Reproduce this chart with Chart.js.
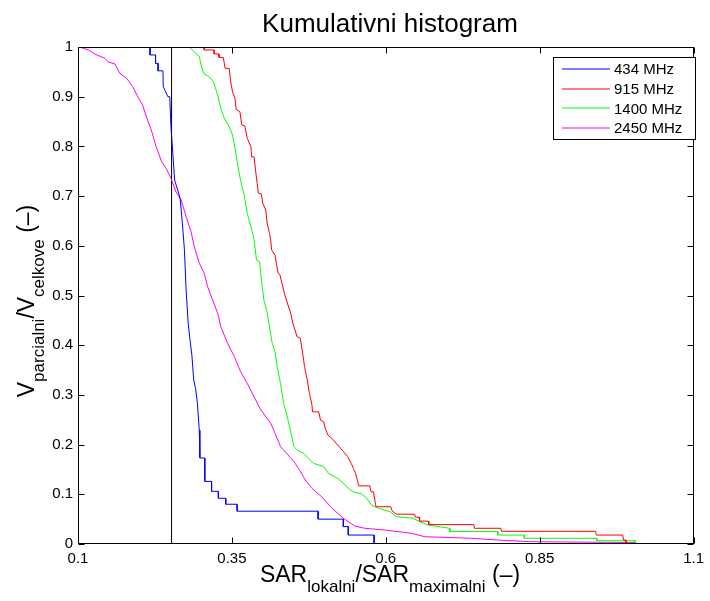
<!DOCTYPE html>
<html lang="en">
<head>
<meta charset="UTF-8">
<title>Kumulativni histogram</title>
<script src="https://cdn.jsdelivr.net/npm/chart.js"></script>
<style>
  body { margin: 0; background: #fff; }
</style>
</head>
<body>
<canvas id="histChart" width="710" height="601"></canvas>
<script>
// tick values
const xTicks = [0.1, 0.35, 0.6, 0.85, 1.1];
const yTicks = [0, 0.1, 0.2, 0.3, 0.4, 0.5, 0.6, 0.7, 0.8, 0.9, 1];

// series names
const seriesLabels = ['434 MHz', '915 MHz', '1400 MHz', '2450 MHz'];

// vertical marker position
const markerX = 0.252;

// [SAR_lokalni/SAR_maximalni, V_parcialni/V_celkove] pairs
const curve434 = [
  [0.217,1],[0.217,0.984],[0.226,0.984],[0.226,0.967],[0.230,0.967],[0.230,0.952],
  [0.238,0.952],[0.2385,0.920],[0.246,0.900],[0.249,0.900],[0.251,0.84],[0.254,0.786],
  [0.257,0.732],[0.262,0.712],[0.266,0.695],[0.270,0.638],[0.273,0.590],[0.2756,0.511],
  [0.279,0.444],[0.282,0.41],[0.285,0.380],[0.288,0.330],[0.291,0.313],[0.294,0.283],
  [0.297,0.229],[0.298,0.173],[0.306,0.173],[0.306,0.126],[0.317,0.126],[0.317,0.106],
  [0.328,0.106],[0.328,0.092],[0.340,0.092],[0.340,0.080],[0.3585,0.080],[0.3585,0.066],
  [0.490,0.066],[0.490,0.050],[0.531,0.050],[0.531,0.035],[0.539,0.035],[0.539,0.018],
  [0.581,0.018],[0.581,0]
];
const curve915 = [
  [0.305,1],[0.305,0.994],[0.321,0.994],[0.321,0.986],[0.329,0.986],[0.329,0.979],
  [0.336,0.979],[0.339,0.957],[0.3456,0.957],[0.348,0.930],[0.351,0.910],[0.355,0.897],
  [0.357,0.874],[0.363,0.870],[0.366,0.843],[0.371,0.841],[0.375,0.816],[0.381,0.799],
  [0.382,0.779],[0.386,0.779],[0.389,0.746],[0.391,0.726],[0.393,0.706],[0.398,0.704],
  [0.400,0.686],[0.405,0.672],[0.407,0.648],[0.411,0.625],[0.413,0.612],[0.4145,0.592],
  [0.420,0.581],[0.425,0.545],[0.428,0.542],[0.432,0.521],[0.436,0.501],[0.441,0.481],
  [0.445,0.467],[0.449,0.444],[0.456,0.417],[0.461,0.414],[0.465,0.384],[0.468,0.357],
  [0.472,0.333],[0.476,0.303],[0.480,0.280],[0.481,0.266],[0.491,0.266],[0.494,0.249],
  [0.499,0.246],[0.502,0.231],[0.506,0.219],[0.512,0.213],[0.522,0.199],[0.529,0.189],
  [0.538,0.176],[0.544,0.162],[0.5475,0.152],[0.551,0.142],[0.556,0.117],[0.574,0.117],
  [0.576,0.105],[0.580,0.105],[0.584,0.075],[0.608,0.075],[0.610,0.067],[0.617,0.060],
  [0.647,0.060],[0.648,0.054],[0.654,0.054],[0.655,0.046],[0.669,0.046],[0.670,0.039],
  [0.743,0.039],[0.744,0.0316],[0.787,0.0316],[0.788,0.0255],[0.941,0.0255],[0.942,0.018],
  [0.985,0.018],[0.986,0.008],[0.99,0.008],[0.99,0]
];
const curve1400 = [
  [0.281,1],[0.289,0.990],[0.297,0.981],[0.300,0.964],[0.304,0.947],[0.313,0.940],
  [0.320,0.930],[0.327,0.903],[0.332,0.877],[0.3375,0.857],[0.3456,0.840],[0.351,0.823],
  [0.355,0.796],[0.359,0.766],[0.364,0.732],[0.370,0.702],[0.375,0.665],[0.381,0.638],
  [0.386,0.613],[0.390,0.571],[0.395,0.568],[0.398,0.531],[0.402,0.491],[0.4075,0.464],
  [0.411,0.437],[0.4155,0.404],[0.420,0.387],[0.4236,0.357],[0.429,0.323],[0.434,0.283],
  [0.440,0.256],[0.445,0.229],[0.4506,0.196],[0.457,0.188],[0.466,0.183],[0.475,0.172],
  [0.483,0.162],[0.499,0.156],[0.507,0.142],[0.518,0.135],[0.529,0.125],[0.539,0.112],
  [0.547,0.105],[0.561,0.101],[0.569,0.092],[0.577,0.078],[0.588,0.072],[0.607,0.065],
  [0.617,0.055],[0.644,0.052],[0.655,0.045],[0.669,0.038],[0.704,0.0316],[0.704,0.025],
  [0.782,0.025],[0.782,0.018],[0.825,0.018],[0.825,0.0115],[0.943,0.0115],[0.943,0.0066],
  [1.005,0.0066],[1.005,0]
];
const curve2450 = [
  [0.103,1],[0.117,0.994],[0.127,0.986],[0.144,0.977],[0.149,0.970],[0.160,0.966],
  [0.168,0.947],[0.179,0.937],[0.189,0.920],[0.197,0.900],[0.205,0.883],[0.211,0.860],
  [0.219,0.833],[0.227,0.799],[0.236,0.769],[0.243,0.756],[0.251,0.736],[0.259,0.709],
  [0.2675,0.692],[0.2756,0.659],[0.2837,0.628],[0.289,0.598],[0.297,0.565],[0.305,0.545],
  [0.3105,0.518],[0.3186,0.491],[0.327,0.464],[0.332,0.437],[0.343,0.404],[0.354,0.377],
  [0.364,0.347],[0.375,0.323],[0.386,0.296],[0.397,0.270],[0.413,0.243],[0.418,0.229],
  [0.429,0.196],[0.4506,0.166],[0.460,0.149],[0.469,0.129],[0.480,0.112],[0.496,0.095],
  [0.5125,0.072],[0.531,0.052],[0.550,0.036],[0.566,0.0316],[0.599,0.028],[0.642,0.0215],
  [0.663,0.0147],[0.739,0.0115],[0.782,0.008],[0.836,0.0046],[1.005,0.003],[1.005,0]
];

const FONT = 'Liberation Sans, Arial, Helvetica, sans-serif';
const toPts = arr => arr.map(p => ({ x: p[0], y: p[1] }));

// draws text with subscript parts, centred on x
function drawSubText(ctx, parts, x, y, mainSize, subSize, drop) {
  let w = 0;
  parts.forEach(p => {
    ctx.font = (p.sub ? subSize : mainSize) + 'px ' + FONT;
    p.w = ctx.measureText(p.t).width;
    w += p.w;
  });
  let cx = x - w / 2;
  ctx.textAlign = 'left';
  ctx.textBaseline = 'alphabetic';
  parts.forEach(p => {
    ctx.font = (p.sub ? subSize : mainSize) + 'px ' + FONT;
    ctx.fillText(p.t, cx, p.sub ? y + drop : y);
    cx += p.w;
  });
}

// box, inward ticks, titles, legend
const matlabLook = {
  id: 'matlabLook',
  afterDatasetsDraw(chart) {
    const { ctx, chartArea: a, scales } = chart;
    ctx.save();
    ctx.strokeStyle = '#000';
    ctx.lineWidth = 1;
    const L = Math.round(a.left) + 0.5, R = Math.round(a.right) - 0.5;
    const T = Math.round(a.top) + 0.5, B = Math.round(a.bottom) - 0.5;
    ctx.strokeRect(L, T, R - L, B - T);
    ctx.beginPath();
    xTicks.forEach(v => {
      const px = Math.round(scales.x.getPixelForValue(v)) + 0.5;
      ctx.moveTo(px, B); ctx.lineTo(px, B - 6);
      ctx.moveTo(px, T); ctx.lineTo(px, T + 6);
    });
    yTicks.forEach(v => {
      const py = Math.round(scales.y.getPixelForValue(v)) + 0.5;
      ctx.moveTo(L, py); ctx.lineTo(L + 6, py);
      ctx.moveTo(R, py); ctx.lineTo(R - 6, py);
    });
    ctx.stroke();

    // legend
    const lx = 553.5, ly = 57.5, lw = 142, lh = 82;
    ctx.fillStyle = '#fff';
    ctx.fillRect(lx, ly, lw, lh);
    ctx.strokeRect(lx, ly, lw, lh);
    ctx.font = '15px ' + FONT;
    ctx.textAlign = 'left';
    ctx.textBaseline = 'middle';
    seriesLabels.forEach((lab, i) => {
      const ds = chart.data.datasets[i];
      const ry = 69 + i * 19.7;
      ctx.strokeStyle = ds.borderColor;
      ctx.beginPath();
      ctx.moveTo(562, Math.round(ry));
      ctx.lineTo(610, Math.round(ry));
      ctx.stroke();
      ctx.fillStyle = '#000';
      ctx.fillText(lab, 614, ry + 1);
    });

    // titles
    ctx.fillStyle = '#000';
    ctx.font = '26px ' + FONT;
    ctx.textAlign = 'center';
    ctx.textBaseline = 'alphabetic';
    ctx.fillText('Kumulativni histogram', 390, 32);

    drawSubText(ctx, [
      { t: 'SAR' }, { t: 'lokalni', sub: true }, { t: '/SAR' },
      { t: 'maximalni', sub: true }, { t: ' (\u2013)' }
    ], 390, 582, 23, 17, 10);

    ctx.translate(34, 301);
    ctx.rotate(-Math.PI / 2);
    drawSubText(ctx, [
      { t: 'V' }, { t: 'parcialni', sub: true }, { t: '/V' },
      { t: 'celkove', sub: true }, { t: ' (\u2013)' }
    ], 0, 0, 23, 17, 10);
    ctx.restore();
  }
};

const lineDs = (label, pts, color) => ({
  label: label,
  data: toPts(pts),
  showLine: true,
  borderColor: color,
  backgroundColor: color,
  borderWidth: 1,
  pointRadius: 0,
  tension: 0
});

const ctx = document.getElementById('histChart').getContext('2d');
new Chart(ctx, {
  type: 'scatter',
  data: {
    datasets: [
      lineDs(seriesLabels[0], curve434, '#0000ff'),
      lineDs(seriesLabels[1], curve915, '#ff0000'),
      lineDs(seriesLabels[2], curve1400, '#00ff00'),
      lineDs(seriesLabels[3], curve2450, '#ff00ff'),
      lineDs('marker', [[markerX, 0], [markerX, 1]], '#000000')
    ]
  },
  options: {
    responsive: false,
    animation: false,
    layout: { padding: { top: 47, right: 13, left: 0, bottom: 0 } },
    plugins: {
      legend: { display: false },
      tooltip: { enabled: false }
    },
    scales: {
      x: {
        type: 'linear',
        min: 0.1,
        max: 1.1,
        afterBuildTicks: s => { s.ticks = xTicks.map(v => ({ value: v })); },
        afterFit: s => { s.height = 57; },
        grid: { display: false, drawTicks: false },
        border: { display: false },
        ticks: {
          color: '#000',
          font: { family: FONT, size: 15 },
          padding: 6,
          maxRotation: 0,
          autoSkip: false,
          callback: v => String(v)
        }
      },
      y: {
        type: 'linear',
        min: 0,
        max: 1,
        afterBuildTicks: s => { s.ticks = yTicks.map(v => ({ value: v })); },
        afterFit: s => { s.width = 78; },
        grid: { display: false, drawTicks: false },
        border: { display: false },
        ticks: {
          color: '#000',
          font: { family: FONT, size: 15 },
          padding: 5,
          autoSkip: false,
          callback: v => String(v)
        }
      }
    }
  },
  plugins: [matlabLook]
});
</script>
</body>
</html>
